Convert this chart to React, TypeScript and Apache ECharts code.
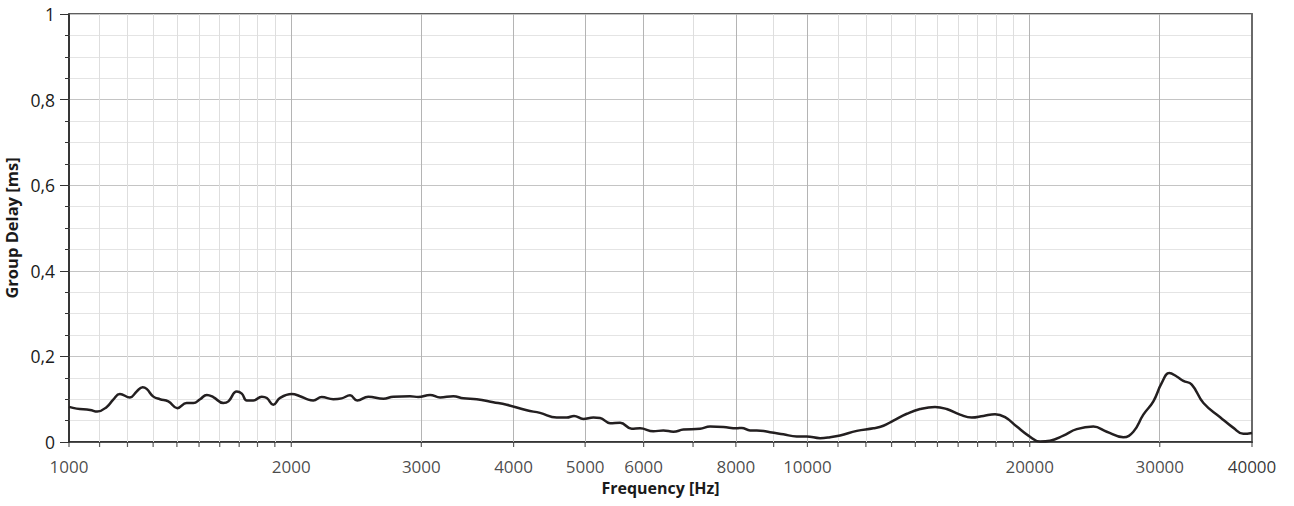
import React, { useEffect, useRef } from "react";
import * as echarts from "echarts";

const frequencies = [
  1000, 1024, 1068, 1092, 1125, 1148, 1172, 1209, 1235, 1258,
  1274, 1301, 1328, 1363, 1402, 1443, 1474, 1505, 1537, 1568,
  1618, 1644, 1687, 1714, 1741, 1777, 1824, 1853, 1891, 1931,
  2003, 2055, 2109, 2142, 2199, 2280, 2340, 2402, 2457, 2543,
  2666, 2749, 2896, 2972, 3083, 3181, 3315, 3420, 3566, 3755,
  3915, 4168, 4344, 4576, 4721, 4830, 4972, 5130, 5238, 5404,
  5576, 5782, 5934, 6185, 6381, 6583, 6792, 7154, 7381, 7694,
  8022, 8149, 8362, 8539, 8900, 9276, 9672, 9978, 10402, 10732,
  11072, 11666, 12286, 12675, 13076, 13636, 14210, 14886, 15437, 16094,
  16690, 17310, 17952, 18520, 19210, 19917, 20654, 21310, 22212, 23157,
  24390, 25430, 26780, 27630, 28504, 29410, 30190, 30910, 31630, 32290,
  33150, 34380, 36220, 37750, 38930, 40000,
];

const groupDelay = [
  0.082, 0.078, 0.075, 0.071, 0.082, 0.099, 0.112, 0.104, 0.118, 0.128,
  0.124, 0.106, 0.1, 0.095, 0.079, 0.091, 0.091, 0.1, 0.11, 0.105,
  0.091, 0.095, 0.118, 0.113, 0.097, 0.097, 0.106, 0.103, 0.087, 0.103,
  0.112, 0.107, 0.099, 0.097, 0.105, 0.1, 0.102, 0.109, 0.097, 0.106,
  0.101, 0.106, 0.107, 0.105, 0.11, 0.104, 0.107, 0.102, 0.1, 0.093,
  0.087, 0.074, 0.068, 0.057, 0.057, 0.061, 0.054, 0.057, 0.056, 0.044,
  0.045, 0.031, 0.032, 0.025, 0.027, 0.024, 0.029, 0.031, 0.036, 0.035,
  0.032, 0.033, 0.027, 0.027, 0.023, 0.018, 0.013, 0.013, 0.009, 0.011,
  0.015, 0.026, 0.032, 0.038, 0.05, 0.066, 0.077, 0.082, 0.077, 0.064,
  0.057, 0.061, 0.065, 0.058, 0.036, 0.015, 0.001, 0.003, 0.015, 0.03,
  0.036, 0.024, 0.011, 0.024, 0.064, 0.095, 0.138, 0.161, 0.153, 0.143,
  0.134, 0.091, 0.058, 0.033, 0.019, 0.021,
];

// labelled x ticks
const xMajorTicks = [1000, 2000, 3000, 4000, 5000, 6000, 8000, 10000, 20000, 30000, 40000];
// unlabelled x ticks
const xMinorTicks = [
  1100, 1200, 1300, 1400, 1500, 1600, 1700, 1800, 1900,
  7000, 9000,
  11000, 12000, 13000, 14000, 15000, 16000, 17000, 18000, 19000,
];

const xAxisTitle = "Frequency [Hz]";
const yAxisTitle = "Group Delay [ms]";

const FONT = "'Open Sans', 'Noto Sans', sans-serif";

export default function App() {
  const ref = useRef<HTMLDivElement>(null);

  useEffect(() => {
    if (!ref.current) return;
    const chart = echarts.init(ref.current, undefined, { renderer: "svg" });

    const innerMajor = xMajorTicks.filter((f, i) => i > 0 && i < xMajorTicks.length - 1);
    const gridLines = [
      ...xMinorTicks.map((f) => ({ xAxis: f, lineStyle: { color: "#dedede", width: 1, type: "solid" } })),
      ...innerMajor.map((f) => ({ xAxis: f, lineStyle: { color: "#b4b4b4", width: 1, type: "solid" } })),
    ];

    chart.setOption({
      animation: false,
      backgroundColor: "#ffffff",
      textStyle: { fontFamily: FONT },
      grid: {
        left: 69,
        right: 42,
        top: 14,
        bottom: 64,
        containLabel: false,
        outerBoundsMode: "none",
        show: true,
        borderColor: "#2a2a2a",
        borderWidth: 1.5,
        backgroundColor: "transparent",
      },
      xAxis: {
        type: "log",
        min: 1000,
        max: 40000,
        name: xAxisTitle,
        nameLocation: "middle",
        nameGap: 37,
        nameTextStyle: { fontFamily: FONT, fontSize: 16, lineHeight: 18, fontWeight: "bold", color: "#1a1a1a" },
        axisLine: { show: true, lineStyle: { color: "#2a2a2a", width: 1.5 } },
        axisTick: { show: false },
        axisLabel: { show: false },
        splitLine: { show: false },
        minorTick: { show: false },
        minorSplitLine: { show: false },
      },
      yAxis: [
        {
          type: "value",
          min: 0,
          max: 1,
          interval: 0.2,
          name: yAxisTitle,
          nameLocation: "middle",
          nameGap: 42,
          nameTextStyle: { fontFamily: FONT, fontSize: 16.5, fontWeight: "bold", color: "#1a1a1a" },
          axisLine: { show: true, lineStyle: { color: "#2a2a2a", width: 1.5 } },
          axisTick: { show: true, inside: false, length: 9, lineStyle: { color: "#333", width: 1 } },
          minorTick: { show: true, splitNumber: 4, length: 4, lineStyle: { color: "#333", width: 1 } },
          axisLabel: {
            margin: 14,
            fontFamily: FONT,
            fontSize: 17.5,
            color: "#1a1a1a",
            formatter: (v: number) => {
              const r = Math.round(v * 10) / 10;
              return String(r).replace(".", ",");
            },
          },
          splitLine: { show: true, lineStyle: { color: "#c4c4c4", width: 1 } },
          minorSplitLine: { show: true, lineStyle: { color: "#e4e4e4", width: 1 } },
        },
        {
          type: "value",
          min: 0,
          max: 1,
          position: "right",
          axisLine: { show: true, lineStyle: { color: "#6a6a6a", width: 2 } },
          axisTick: { show: false },
          axisLabel: { show: false },
          splitLine: { show: false },
        },
      ],
      series: [
        {
          name: "majorTicks",
          type: "scatter",
          silent: true,
          clip: false,
          z: 3,
          symbol: "rect",
          symbolSize: [1.2, 5],
          symbolOffset: [0, 2.5],
          itemStyle: { color: "#333" },
          data: xMajorTicks.map((f, i) => ({
            value: [f, 0],
            label: i === xMajorTicks.length - 1 ? { color: "#000" } : undefined,
          })),
          label: {
            show: true,
            position: "bottom",
            distance: 10,
            fontFamily: FONT,
            fontSize: 17,
            lineHeight: 18,
            color: "#1a1a1a",
            formatter: (p: any) => String(p.value[0]),
          },
          markLine: {
            silent: true,
            z: 1,
            symbol: ["none", "none"],
            label: { show: false },
            emphasis: { disabled: true },
            animation: false,
            data: gridLines,
          },
        },
        {
          name: "minorTicks",
          type: "scatter",
          silent: true,
          clip: false,
          z: 3,
          symbol: "rect",
          symbolSize: [1.2, 5],
          symbolOffset: [0, 2.5],
          itemStyle: { color: "#333" },
          data: xMinorTicks.map((f) => [f, 0]),
        },
        {
          name: "Group Delay",
          type: "line",
          silent: true,
          z: 4,
          showSymbol: false,
          symbol: "none",
          smooth: 0.45,
          lineStyle: { color: "#231f20", width: 2.5 },
          data: frequencies.map((f, i) => [f, groupDelay[i]]),
        },
      ],
    });

    return () => chart.dispose();
  }, []);

  return (
    <div
      ref={ref}
      style={{ position: "fixed", left: 0, top: 0, width: 1294, height: 506, background: "#fff" }}
    />
  );
}
